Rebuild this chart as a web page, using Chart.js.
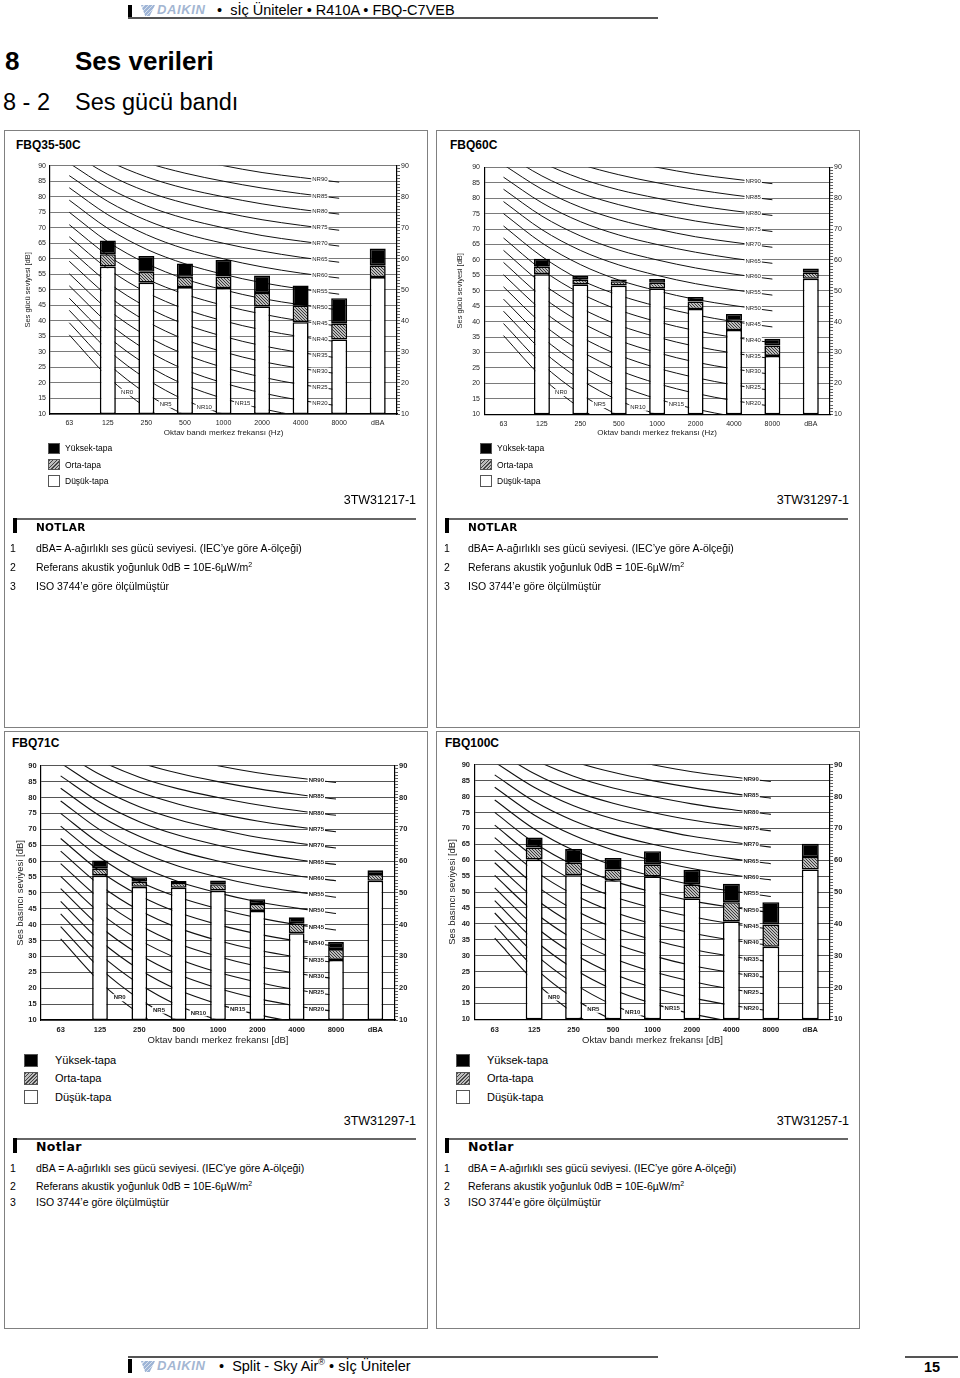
<!DOCTYPE html>
<html><head><meta charset="utf-8">
<script src="https://cdn.jsdelivr.net/npm/chart.js@4.4.1/dist/chart.umd.min.js"></script>
<style>
body{margin:0;width:960px;height:1378px;position:relative;background:#fff;font-family:"Liberation Sans",Arial,sans-serif;color:#000;overflow:hidden}
.a{position:absolute;white-space:nowrap;line-height:20px;height:20px}
.panel{position:absolute;border:1.5px solid #808080;box-sizing:border-box}
.hl{position:absolute;background:#555}
.bar{position:absolute;background:#000}
.logo{position:absolute;width:14px;height:11px;background:repeating-linear-gradient(135deg,#9fb5d6 0 2px,#d9e2ef 2px 3px);clip-path:polygon(0 0,100% 0,62% 100%,30% 100%)}
.dk{position:absolute;font:italic bold 13px "Liberation Sans",Arial,sans-serif;color:#a3b6d2;letter-spacing:0.6px;line-height:16px}
canvas{position:absolute}
.sw{position:absolute;box-sizing:border-box;border:1px solid #555}
.hatch{background:repeating-linear-gradient(135deg,#444 0 1px,#bdbdbd 1px 2.5px)}
.nh{font-family:"DejaVu Sans",sans-serif;font-weight:bold}
</style>
</head>
<body>
<!-- header -->
<div class="bar" style="left:128px;top:5px;width:4px;height:13px"></div>
<div class="logo" style="left:141px;top:5px"></div>
<div class="dk" style="left:157px;top:2px">DAIKIN</div>
<div class="a" style="left:217px;top:0px;font-size:14.5px">•&nbsp; sİç Üniteler • R410A • FBQ-C7VEB</div>
<div class="hl" style="left:128px;top:17px;width:530px;height:1.5px"></div>

<div class="a" style="left:5px;top:49px;font-size:26px;font-weight:bold;line-height:24px;height:24px">8</div>
<div class="a" style="left:75px;top:49px;font-size:26px;font-weight:bold;line-height:24px;height:24px">Ses verileri</div>
<div class="a" style="left:3px;top:90px;font-size:23.5px;line-height:24px;height:24px">8 - 2</div>
<div class="a" style="left:75px;top:90px;font-size:23.5px;line-height:24px;height:24px">Ses gücü bandı</div>

<!-- panels -->
<div class="panel" style="left:4px;top:130px;width:424px;height:598px"></div>
<div class="panel" style="left:436px;top:130px;width:424px;height:598px"></div>
<div class="panel" style="left:4px;top:731px;width:424px;height:598px"></div>
<div class="panel" style="left:436px;top:731px;width:424px;height:598px"></div>

<div class="a" style="left:16px;top:135px;font-size:12px;font-weight:bold">FBQ35-50C</div>
<div class="a" style="left:450px;top:135px;font-size:12px;font-weight:bold">FBQ60C</div>
<div class="a" style="left:12px;top:733px;font-size:12px;font-weight:bold">FBQ71C</div>
<div class="a" style="left:445px;top:733px;font-size:12px;font-weight:bold">FBQ100C</div>

<canvas id="c1" width="430" height="300" style="left:0;top:150px"></canvas>
<canvas id="c2" width="430" height="300" style="left:430px;top:150px"></canvas>
<canvas id="c3" width="430" height="300" style="left:0;top:750px"></canvas>
<canvas id="c4" width="430" height="300" style="left:430px;top:750px"></canvas>

<!-- legends top -->
<div class="sw" style="left:48px;top:443px;width:12px;height:11px;background:#000"></div>
<div class="sw hatch" style="left:48px;top:459px;width:12px;height:11px"></div>
<div class="sw" style="left:48px;top:475px;width:12px;height:12px;background:#fff"></div>
<div class="a" style="left:65px;top:438px;font-size:8.5px">Yüksek-tapa</div>
<div class="a" style="left:65px;top:455px;font-size:8.5px">Orta-tapa</div>
<div class="a" style="left:65px;top:471px;font-size:8.5px">Düşük-tapa</div>

<div class="sw" style="left:480px;top:443px;width:12px;height:11px;background:#000"></div>
<div class="sw hatch" style="left:480px;top:459px;width:12px;height:11px"></div>
<div class="sw" style="left:480px;top:475px;width:12px;height:12px;background:#fff"></div>
<div class="a" style="left:497px;top:438px;font-size:8.5px">Yüksek-tapa</div>
<div class="a" style="left:497px;top:455px;font-size:8.5px">Orta-tapa</div>
<div class="a" style="left:497px;top:471px;font-size:8.5px">Düşük-tapa</div>

<!-- legends bottom -->
<div class="sw" style="left:24px;top:1054px;width:14px;height:13px;background:#000"></div>
<div class="sw hatch" style="left:24px;top:1072px;width:14px;height:13px"></div>
<div class="sw" style="left:24px;top:1090px;width:14px;height:14px;background:#fff"></div>
<div class="a" style="left:55px;top:1050px;font-size:11px">Yüksek-tapa</div>
<div class="a" style="left:55px;top:1068px;font-size:11px">Orta-tapa</div>
<div class="a" style="left:55px;top:1087px;font-size:11px">Düşük-tapa</div>

<div class="sw" style="left:456px;top:1054px;width:14px;height:13px;background:#000"></div>
<div class="sw hatch" style="left:456px;top:1072px;width:14px;height:13px"></div>
<div class="sw" style="left:456px;top:1090px;width:14px;height:14px;background:#fff"></div>
<div class="a" style="left:487px;top:1050px;font-size:11px">Yüksek-tapa</div>
<div class="a" style="left:487px;top:1068px;font-size:11px">Orta-tapa</div>
<div class="a" style="left:487px;top:1087px;font-size:11px">Düşük-tapa</div>

<!-- codes -->
<div class="a" style="right:544px;top:490px;font-size:12.5px">3TW31217-1</div>
<div class="a" style="right:111px;top:490px;font-size:12.5px">3TW31297-1</div>
<div class="a" style="right:544px;top:1111px;font-size:12.5px">3TW31297-1</div>
<div class="a" style="right:111px;top:1111px;font-size:12.5px">3TW31257-1</div>

<!-- notes top -->
<div class="bar" style="left:13px;top:518px;width:4px;height:15px"></div>
<div class="hl" style="left:17px;top:518px;width:399px;height:1.5px;background:#666"></div>
<div class="a nh" style="left:36px;top:517px;font-size:10.5px;letter-spacing:0.3px">NOTLAR</div>
<div class="a" style="left:10px;top:538px;font-size:10.5px">1</div>
<div class="a" style="left:36px;top:538px;font-size:10.5px">dBA= A-ağırlıklı ses gücü seviyesi. (IEC’ye göre A-ölçeği)</div>
<div class="a" style="left:10px;top:557px;font-size:10.5px">2</div>
<div class="a" style="left:36px;top:557px;font-size:10.5px">Referans akustik yoğunluk 0dB = 10E-6µW/m<sup style="font-size:7px;line-height:0">2</sup></div>
<div class="a" style="left:10px;top:576px;font-size:10.5px">3</div>
<div class="a" style="left:36px;top:576px;font-size:10.5px">ISO 3744’e göre ölçülmüştür</div>

<div class="bar" style="left:445px;top:518px;width:4px;height:15px"></div>
<div class="hl" style="left:449px;top:518px;width:399px;height:1.5px;background:#666"></div>
<div class="a nh" style="left:468px;top:517px;font-size:10.5px;letter-spacing:0.3px">NOTLAR</div>
<div class="a" style="left:444px;top:538px;font-size:10.5px">1</div>
<div class="a" style="left:468px;top:538px;font-size:10.5px">dBA= A-ağırlıklı ses gücü seviyesi. (IEC’ye göre A-ölçeği)</div>
<div class="a" style="left:444px;top:557px;font-size:10.5px">2</div>
<div class="a" style="left:468px;top:557px;font-size:10.5px">Referans akustik yoğunluk 0dB = 10E-6µW/m<sup style="font-size:7px;line-height:0">2</sup></div>
<div class="a" style="left:444px;top:576px;font-size:10.5px">3</div>
<div class="a" style="left:468px;top:576px;font-size:10.5px">ISO 3744’e göre ölçülmüştür</div>

<!-- notes bottom -->
<div class="bar" style="left:13px;top:1138px;width:4px;height:15px"></div>
<div class="hl" style="left:17px;top:1138px;width:399px;height:1.5px;background:#666"></div>
<div class="a nh" style="left:36px;top:1137px;font-size:12.5px;letter-spacing:0.3px">Notlar</div>
<div class="a" style="left:10px;top:1158px;font-size:10.5px">1</div>
<div class="a" style="left:36px;top:1158px;font-size:10.5px">dBA = A-ağırlıklı ses gücü seviyesi. (IEC’ye göre A-ölçeği)</div>
<div class="a" style="left:10px;top:1176px;font-size:10.5px">2</div>
<div class="a" style="left:36px;top:1176px;font-size:10.5px">Referans akustik yoğunluk 0dB = 10E-6µW/m<sup style="font-size:7px;line-height:0">2</sup></div>
<div class="a" style="left:10px;top:1192px;font-size:10.5px">3</div>
<div class="a" style="left:36px;top:1192px;font-size:10.5px">ISO 3744’e göre ölçülmüştür</div>

<div class="bar" style="left:445px;top:1138px;width:4px;height:15px"></div>
<div class="hl" style="left:449px;top:1138px;width:399px;height:1.5px;background:#666"></div>
<div class="a nh" style="left:468px;top:1137px;font-size:12.5px;letter-spacing:0.3px">Notlar</div>
<div class="a" style="left:444px;top:1158px;font-size:10.5px">1</div>
<div class="a" style="left:468px;top:1158px;font-size:10.5px">dBA = A-ağırlıklı ses gücü seviyesi. (IEC’ye göre A-ölçeği)</div>
<div class="a" style="left:444px;top:1176px;font-size:10.5px">2</div>
<div class="a" style="left:468px;top:1176px;font-size:10.5px">Referans akustik yoğunluk 0dB = 10E-6µW/m<sup style="font-size:7px;line-height:0">2</sup></div>
<div class="a" style="left:444px;top:1192px;font-size:10.5px">3</div>
<div class="a" style="left:468px;top:1192px;font-size:10.5px">ISO 3744’e göre ölçülmüştür</div>

<!-- footer -->
<div class="hl" style="left:128px;top:1356px;width:530px;height:1.5px"></div>
<div class="bar" style="left:128px;top:1359px;width:4px;height:14px"></div>
<div class="logo" style="left:141px;top:1361px"></div>
<div class="dk" style="left:157px;top:1358px">DAIKIN</div>
<div class="a" style="left:219px;top:1356px;font-size:14.5px">•&nbsp; Split - Sky Air<sup style="font-size:9px;line-height:0">®</sup> • sİç Üniteler</div>
<div class="hl" style="left:905px;top:1356px;width:53px;height:1.5px"></div>
<div class="a" style="left:924px;top:1357px;font-size:14.5px;font-weight:bold">15</div>

<script>
// ---------- data ----------
const CATEGORIES = ['63','125','250','500','1000','2000','4000','8000','dBA'];
const Y_MIN = 10, Y_MAX = 90;

// NR curves (63 ... 8000 Hz)
const NR_LEVELS = [0,5,10,15,20,25,30,35,40,45,50,55,60,65,70,75,80,85,90];
const NR0  = [35.5,22.0,12.0,4.8,0.0,-3.5,-6.1,-8.0];
const NR5  = [39.4,26.3,16.6,9.7,5.0,1.6,-1.0,-2.8];
const NR10 = [43.4,30.7,21.3,14.5,10.0,6.6,4.2,2.3];
const NR15 = [47.3,35.0,25.9,19.4,15.0,11.7,9.3,7.4];
const NR20 = [51.3,39.4,30.6,24.3,20.0,16.8,14.4,12.6];
const NR25 = [55.2,43.7,35.2,29.2,25.0,21.9,19.5,17.7];
const NR30 = [59.2,48.1,39.9,34.0,30.0,26.9,24.7,22.9];
const NR35 = [63.1,52.4,44.5,38.9,35.0,32.0,29.8,28.0];
const NR40 = [67.1,56.8,49.2,43.8,40.0,37.1,34.9,33.2];
const NR45 = [71.0,61.1,53.6,48.6,45.0,42.2,40.0,38.3];
const NR50 = [75.0,65.5,58.5,53.5,50.0,47.2,45.2,43.5];
const NR55 = [78.9,69.8,63.1,58.4,55.0,52.3,50.3,48.6];
const NR60 = [82.9,74.2,67.8,63.2,60.0,57.4,55.4,53.8];
const NR65 = [86.8,78.5,72.4,68.1,65.0,62.5,60.5,58.9];
const NR70 = [90.8,82.9,77.1,73.0,70.0,67.5,65.7,64.1];
const NR75 = [94.7,87.2,81.7,77.9,75.0,72.6,70.8,69.2];
const NR80 = [98.6,91.6,86.4,82.7,80.0,77.7,75.9,74.4];
const NR85 = [102.6,95.9,91.0,87.6,85.0,82.8,81.0,79.5];
const NR90 = [106.5,100.3,95.7,92.5,90.0,87.8,86.2,84.7];
const NR_CURVES = [NR0,NR5,NR10,NR15,NR20,NR25,NR30,NR35,NR40,NR45,NR50,NR55,NR60,NR65,NR70,NR75,NR80,NR85,NR90];
// category index where each NR label sits (between index and index+1)
const NR_LABEL_SEG = [1,2,3,4,6,6,6,6,6,6,6,6,6,6,6,6,6,6,6];

// FBQ35-50C
const FBQ35_LOW  = [null,57.5,52.3,50.9,50.6,44.7,39.6,34.0,54.1];
const FBQ35_MID  = [null,61.5,55.8,54.2,54.3,49.0,44.9,39.2,57.9];
const FBQ35_HIGH = [null,65.9,60.9,58.5,59.6,54.6,51.4,47.3,63.3];
// FBQ60C
const FBQ60_LOW  = [null,55.4,52.1,51.7,50.8,44.1,37.3,28.9,53.9];
const FBQ60_MID  = [null,57.8,53.6,53.1,52.6,46.5,40.3,32.3,56.0];
const FBQ60_HIGH = [null,60.4,54.9,53.7,53.8,48.0,42.5,34.5,57.2];
// FBQ71C
const FBQ71_LOW  = [null,55.4,51.9,51.6,50.7,44.3,37.3,28.9,53.8];
const FBQ71_MID  = [null,57.7,53.5,53.1,52.7,46.5,40.4,32.3,55.9];
const FBQ71_HIGH = [null,60.2,54.9,53.7,53.9,48.0,42.3,34.5,57.1];
// FBQ100C
const FBQ100_LOW  = [null,60.2,55.3,53.7,54.9,48.0,40.8,32.8,57.1];
const FBQ100_MID  = [null,64.0,59.2,57.0,58.7,52.4,46.8,39.8,61.0];
const FBQ100_HIGH = [null,67.1,63.5,60.7,62.8,57.0,52.6,46.8,65.2];

// ---------- helpers ----------
function makeHatch(ctx){
  const c = document.createElement('canvas'); c.width = 3; c.height = 3;
  const g = c.getContext('2d');
  g.fillStyle = '#bcbcbc'; g.fillRect(0,0,3,3);
  g.fillStyle = '#3a3a3a';
  g.fillRect(0,0,1,1); g.fillRect(1,1,1,1); g.fillRect(2,2,1,1);
  return ctx.createPattern(c,'repeat');
}

const nrLabelPlugin = {
  id:'nrLabels',
  afterDatasetsDraw(chart, args, o){
    const {ctx} = chart; const x = chart.scales.x, y = chart.scales.y;
    ctx.save();
    ctx.font = o.font; ctx.textAlign = 'center'; ctx.textBaseline = 'middle';
    NR_LEVELS.forEach((lvl,k)=>{
      const s = NR_LABEL_SEG[k], v = NR_CURVES[k];
      const px = (x.getPixelForValue(s) + x.getPixelForValue(s+1)) / 2;
      const py = y.getPixelForValue((v[s] + v[s+1]) / 2);
      const t = 'NR' + lvl; const w = ctx.measureText(t).width;
      ctx.fillStyle = '#fff'; ctx.fillRect(px - w/2 - 1, py - 3.5, w + 2, 7);
      ctx.fillStyle = o.color; ctx.fillText(t, px, py);
    });
    ctx.restore();
  }
};

function build(id, low, mid, high, g){
  const canvas = document.getElementById(id);
  const ctx = canvas.getContext('2d');
  const hatch = makeHatch(ctx);
  const barCommon = {type:'bar', grouped:false, categoryPercentage:1, barPercentage:g.bp,
    borderColor:'#000', borderWidth:1.6, borderSkipped:false, order:0};
  const datasets = [
    Object.assign({label:'Yüksek-tapa', data: high.map((v,i)=> v==null?null:[mid[i], v]), backgroundColor:'#000'}, barCommon),
    Object.assign({label:'Orta-tapa', data: mid.map((v,i)=> v==null?null:[low[i], v]), backgroundColor:hatch}, barCommon),
    Object.assign({label:'Düşük-tapa', data: low.map(v=> v==null?null:[Y_MIN, v]), backgroundColor:'#fff'}, barCommon)
  ];
  NR_CURVES.forEach((arr,k)=>{
    datasets.push({type:'line', label:'NR'+NR_LEVELS[k], data:arr, borderColor:'#111', borderWidth:g.lw,
      pointRadius:0, cubicInterpolationMode:'monotone', fill:false, order:1});
  });
  return new Chart(ctx, {
    type:'bar',
    data:{labels:CATEGORIES, datasets},
    plugins:[nrLabelPlugin],
    options:{
      responsive:false, animation:false, devicePixelRatio:1, events:[],
      layout:{padding:{top:g.T, left:0, right:0, bottom:0}},
      plugins:{legend:{display:false}, tooltip:{enabled:false}, nrLabels:{font:g.nrFont, color:'#222'}},
      scales:{
        x:{type:'category', offset:true,
          grid:{display:false, drawTicks:false},
          border:{display:true, color:'#000', width:1.2},
          ticks:{font:g.tickFont, color:'#222', padding:g.xtp, maxRotation:0, autoSkip:false},
          title:{display:true, text:g.xTitle, font:g.titleFont, color:'#222', padding:{top:0,bottom:g.xtb}},
          afterFit:s=>{s.height = g.H - g.B;}},
        y:{position:'left', min:Y_MIN, max:Y_MAX,
          ticks:{stepSize:5, font:g.tickFont, color:'#222', padding:g.ytp},
          grid:{color:g.gridColor, lineWidth:1, drawTicks:false},
          border:{display:true, color:'#000', width:1.2},
          title:{display:true, text:g.yTitle, font:g.yTitleFont, color:'#222', padding:{top:g.ytt,bottom:0}},
          afterFit:s=>{s.width = g.L;}},
        y2:{position:'right', min:Y_MIN, max:Y_MAX,
          ticks:{stepSize:1, autoSkip:false, font:g.tickFont, color:'#222', padding:1,
            callback:v=> (v % 10 === 0 ? String(v) : '')},
          grid:{drawOnChartArea:false, drawTicks:true, tickLength:3, color:'#333', lineWidth:0.8},
          border:{display:true, color:'#000', width:1.2},
          afterFit:s=>{s.width = g.W - g.R;}}
      }
    }
  });
}

const smallFont = {family:'"Liberation Sans", Arial, sans-serif', size:7};
const boldFont = {family:'"Liberation Sans", Arial, sans-serif', size:7.5, weight:'bold'};

build('c1', FBQ35_LOW, FBQ35_MID, FBQ35_HIGH, {W:430,H:300,L:50,R:397,T:15.7,B:264,bp:0.415,lw:1,
  gridColor:'#7a7a7a', tickFont:smallFont, titleFont:{family:'"Liberation Sans", Arial', size:8},
  yTitleFont:{family:'"Liberation Sans", Arial', size:7.5}, nrFont:'6px "Liberation Sans", Arial',
  xTitle:'Oktav bandı merkez frekansı (Hz)', yTitle:'Ses gücü seviyesi [dB]', xtp:4.8, xtb:12.5, ytp:4, ytt:23.5});
build('c2', FBQ60_LOW, FBQ60_MID, FBQ60_HIGH, {W:430,H:300,L:54.3,R:400,T:17.3,B:264.3,bp:0.417,lw:1,
  gridColor:'#7a7a7a', tickFont:smallFont, titleFont:{family:'"Liberation Sans", Arial', size:8},
  yTitleFont:{family:'"Liberation Sans", Arial', size:7.5}, nrFont:'6px "Liberation Sans", Arial',
  xTitle:'Oktav bandı merkez frekansı (Hz)', yTitle:'Ses gücü seviyesi [dB]', xtp:5.2, xtb:12.5, ytp:4.3, ytt:25.5});
build('c3', FBQ71_LOW, FBQ71_MID, FBQ71_HIGH, {W:430,H:300,L:41,R:395,T:15.7,B:270,bp:0.40,lw:1.1,
  gridColor:'#555', tickFont:boldFont, titleFont:{family:'"Liberation Sans", Arial', size:9.5},
  yTitleFont:{family:'"Liberation Sans", Arial', size:9.5}, nrFont:'bold 6px "Liberation Sans", Arial',
  xTitle:'Oktav bandı merkez frekansı [dB]', yTitle:'Ses basıncı seviyesi [dB]', xtp:5.5, xtb:3.6, ytp:4.3, ytt:14.3});
build('c4', FBQ100_LOW, FBQ100_MID, FBQ100_HIGH, {W:430,H:300,L:45,R:400,T:14.7,B:269.3,bp:0.43,lw:1.1,
  gridColor:'#555', tickFont:boldFont, titleFont:{family:'"Liberation Sans", Arial', size:9.5},
  yTitleFont:{family:'"Liberation Sans", Arial', size:9.5}, nrFont:'bold 6px "Liberation Sans", Arial',
  xTitle:'Oktav bandı merkez frekansı [dB]', yTitle:'Ses basıncı seviyesi [dB]', xtp:6.2, xtb:3.6, ytp:5, ytt:17});
</script>
</body></html>
